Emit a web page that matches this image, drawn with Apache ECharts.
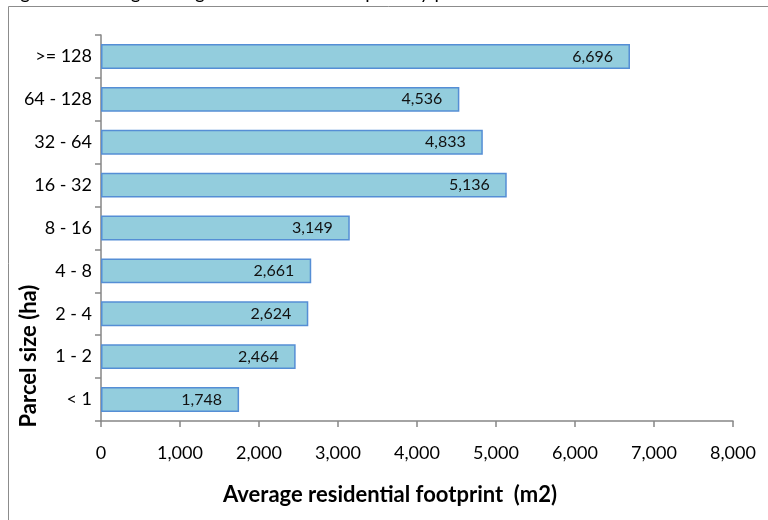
<!DOCTYPE html>
<html>
<head>
<meta charset="utf-8">
<script src="https://cdn.jsdelivr.net/npm/echarts@6/dist/echarts.min.js"></script>
<style>
  html, body { margin: 0; padding: 0; background: #ffffff; }
  #chart { width: 768px; height: 520px; }
</style>
</head>
<body>
<div id="chart"></div>
<script>
const categories = ['< 1', '1 - 2', '2 - 4', '4 - 8', '8 - 16', '16 - 32', '32 - 64', '64 - 128', '>= 128'];
const footprint = [1748, 2464, 2624, 2661, 3149, 5136, 4833, 4536, 6696];
const xTicks = [0, 1000, 2000, 3000, 4000, 5000, 6000, 7000, 8000];
const titleText = 'Figure 6: Average change in residential footprint by parcel size';
const xName = 'Average residential footprint  (m2)';
const yName = 'Parcel size (ha)';

const FONT = 'Lato, "Open Sans", sans-serif';
const fmt = v => Number(v).toLocaleString('en-US');

const chart = echarts.init(document.getElementById('chart'), null, { renderer: 'canvas' });
chart.setOption({
  animation: false,
  backgroundColor: '#ffffff',
  textStyle: { fontFamily: FONT },
  grid: { left: 101, right: 35, top: 35, bottom: 99, containLabel: false },
  xAxis: {
    type: 'value',
    min: xTicks[0],
    max: xTicks[xTicks.length - 1],
    interval: xTicks[1] - xTicks[0],
    name: xName,
    nameLocation: 'middle',
    nameGap: 63,
    nameTextStyle: { fontFamily: FONT, fontSize: 22, fontWeight: 'bold', color: '#000', padding: [0, 54, 0, 0] },
    axisLine: { show: true, lineStyle: { color: '#868686', width: 1.5 } },
    axisTick: { show: true, length: 6, lineStyle: { color: '#868686', width: 1.5 } },
    axisLabel: { fontFamily: FONT, fontSize: 18, color: '#000', margin: 23, formatter: fmt },
    splitLine: { show: false }
  },
  yAxis: {
    type: 'category',
    data: categories,
    axisLine: { show: true, lineStyle: { color: '#868686', width: 1.5 } },
    axisTick: { show: true, length: 6, lineStyle: { color: '#868686', width: 1.5 } },
    axisLabel: { fontFamily: FONT, fontSize: 18, color: '#000', margin: 9 },
    splitLine: { show: false }
  },
  series: [{
    type: 'bar',
    data: footprint,
    barWidth: '58%',
    itemStyle: { color: '#93CDDD', borderColor: '#558ED5', borderWidth: 1.5 },
    label: {
      show: true,
      position: 'insideRight',
      distance: 17,
      fontFamily: FONT,
      fontSize: 16,
      color: '#111',
      formatter: p => fmt(p.value)
    }
  }],
  graphic: [
    {
      type: 'rect',
      shape: { x: 8.5, y: 6.5, width: 900, height: 700 },
      style: { fill: 'none', stroke: '#8c8c8c', lineWidth: 1 },
      silent: true
    },
    {
      type: 'text',
      x: 5, y: -17,
      style: { text: titleText, fontFamily: FONT, fontSize: 19, fill: '#000', textAlign: 'left', textVerticalAlign: 'top' },
      silent: true
    },
    {
      type: 'text',
      x: 29, y: 356,
      rotation: Math.PI / 2,
      style: { text: yName, fontFamily: FONT, fontSize: 22, fontWeight: 'bold', fill: '#000', textAlign: 'center', textVerticalAlign: 'middle' },
      silent: true
    }
  ]
});
</script>
</body>
</html>
